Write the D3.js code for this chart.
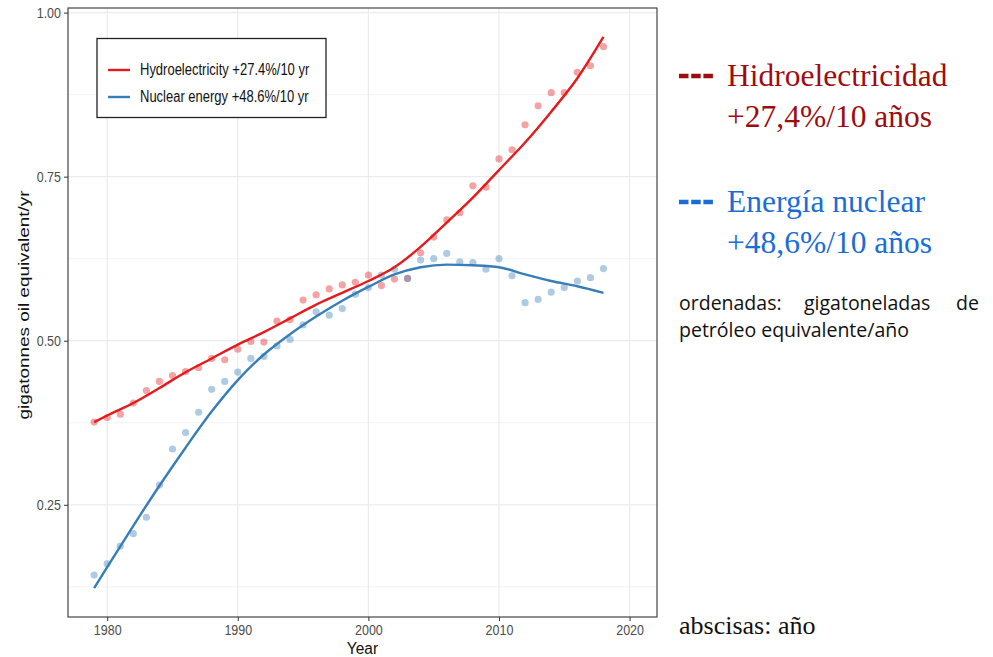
<!DOCTYPE html>
<html>
<head>
<meta charset="utf-8">
<script src="https://cdn.jsdelivr.net/npm/d3@7"></script>
<style>
  body { margin: 0; background: #fff; }
  svg { display: block; }
</style>
</head>
<body>
<script>
// data
const years = [1979,1980,1981,1982,1983,1984,1985,1986,1987,1988,1989,1990,1991,1992,1993,1994,1995,1996,1997,1998,
               1999,2000,2001,2002,2003,2004,2005,2006,2007,2008,2009,2010,2011,2012,2013,2014,2015,2016,2017,2018]
const hydro = [0.376,0.383,0.388,0.405,0.424,0.438,0.447,0.453,0.459,0.473,0.471,0.487,0.499,0.498,0.530,0.532,0.562,0.570,0.579,0.585,
               0.589,0.600,0.584,0.594,0.595,0.634,0.658,0.684,0.695,0.736,0.734,0.777,0.791,0.829,0.858,0.878,0.878,0.909,0.919,0.948]
const nuclear = [0.143,0.160,0.187,0.206,0.231,0.280,0.335,0.360,0.391,0.426,0.438,0.452,0.473,0.476,0.492,0.502,0.524,0.544,0.539,0.549,
                 0.571,0.581,0.600,0.609,0.595,0.623,0.625,0.633,0.620,0.619,0.609,0.625,0.599,0.558,0.563,0.574,0.581,0.591,0.596,0.610]

// smoothed trend lines, read at these years
const fitYears = [1979,1980,1982,1984,1986,1988,1990,1992,1994,1996,1998,2000,2002,2004,2006,2008,2010,2012,2014,2016,2018]
const hydroFit = [0.376,0.386,0.405,0.428,0.452,0.473,0.494,0.513,0.534,0.555,0.573,0.591,0.612,0.643,0.680,0.718,0.760,0.802,0.849,0.900,0.963]
const nuclearFit = [0.123,0.155,0.218,0.279,0.337,0.392,0.440,0.479,0.510,0.537,0.561,0.582,0.601,0.612,0.616,0.615,0.612,0.601,0.591,0.583,0.573]

const xTicks = [1980,1990,2000,2010,2020]
const yTicks = [0.25,0.50,0.75,1.00]
const yMinor = [0.125,0.375,0.625,0.875]
const legendLabels = ['Hydroelectricity +27.4%/10 yr','Nuclear energy +48.6%/10 yr']

let width = 993
let height = 657
let panel = {left: 68, right: 657, top: 8, bottom: 617}

const red = '#e41a1c'
const blue = '#377eb8'
const stretch = 'scale(1,1.2)'

const svg = d3.select('body').append('svg').attr('width', width).attr('height', height)

const x = d3.scaleLinear().domain([1977, 2022.1]).range([panel.left, panel.right])
const y = d3.scaleLinear().domain([0.079, 1.007]).range([panel.bottom, panel.top])

// grid
svg.append('g').selectAll('line').data(yMinor).enter().append('line')
  .attr('x1', panel.left).attr('x2', panel.right)
  .attr('y1', d => y(d)).attr('y2', d => y(d))
  .attr('stroke', '#f3f3f3').attr('stroke-width', 1)
svg.append('g').selectAll('line').data(yTicks).enter().append('line')
  .attr('x1', panel.left).attr('x2', panel.right)
  .attr('y1', d => y(d)).attr('y2', d => y(d))
  .attr('stroke', '#ebebeb').attr('stroke-width', 1.2)
svg.append('g').selectAll('line').data(xTicks).enter().append('line')
  .attr('y1', panel.top).attr('y2', panel.bottom)
  .attr('x1', d => x(d)).attr('x2', d => x(d))
  .attr('stroke', '#ebebeb').attr('stroke-width', 1.2)

// points
svg.append('g').selectAll('circle').data(years).enter().append('circle')
  .attr('cx', d => x(d)).attr('cy', (d, i) => y(hydro[i])).attr('r', 3.6)
  .attr('fill', red).attr('fill-opacity', 0.4)
svg.append('g').selectAll('circle').data(years).enter().append('circle')
  .attr('cx', d => x(d)).attr('cy', (d, i) => y(nuclear[i])).attr('r', 3.6)
  .attr('fill', blue).attr('fill-opacity', 0.4)

// trend lines
const line = d3.line().x(d => x(d[0])).y(d => y(d[1])).curve(d3.curveMonotoneX)
svg.append('path').datum(fitYears.map((d, i) => [d, nuclearFit[i]]))
  .attr('d', line).attr('fill', 'none').attr('stroke', blue).attr('stroke-width', 2.4)
svg.append('path').datum(fitYears.map((d, i) => [d, hydroFit[i]]))
  .attr('d', line).attr('fill', 'none').attr('stroke', red).attr('stroke-width', 2.4)

// panel border
svg.append('rect')
  .attr('x', panel.left).attr('y', panel.top)
  .attr('width', panel.right - panel.left).attr('height', panel.bottom - panel.top)
  .attr('fill', 'none').attr('stroke', '#333').attr('stroke-width', 1.1)

// axes
const yAxis = d3.axisLeft(y).tickValues(yTicks).tickFormat(d3.format('.2f')).tickSize(4).tickPadding(3)
const xAxis = d3.axisBottom(x).tickValues(xTicks).tickFormat(d3.format('d')).tickSize(4).tickPadding(2)

svg.append('g').attr('transform', `translate(${panel.left},0)`).call(yAxis)
  .call(g => g.select('.domain').remove())
  .call(g => g.selectAll('line').attr('stroke', '#333'))
  .call(g => g.selectAll('text').attr('transform', stretch).attr('fill', '#4d4d4d')
    .style('font-family', 'Liberation Sans, Arial, sans-serif').style('font-size', '12.5px'))

svg.append('g').attr('transform', `translate(0,${panel.bottom})`).call(xAxis)
  .call(g => g.select('.domain').remove())
  .call(g => g.selectAll('line').attr('stroke', '#333'))
  .call(g => g.selectAll('text').attr('transform', stretch).attr('fill', '#4d4d4d')
    .style('font-family', 'Liberation Sans, Arial, sans-serif').style('font-size', '12.5px'))

// axis titles
svg.append('text').text('Year')
  .attr('transform', `translate(${(panel.left + panel.right) / 2},654) scale(1,1.1)`)
  .attr('text-anchor', 'middle').attr('fill', '#111')
  .style('font-family', 'Liberation Sans, Arial, sans-serif').style('font-size', '15.5px')

svg.append('text').text('gigatonnes oil equivalent/yr')
  .attr('transform', `translate(29,305) rotate(-90) scale(1.35,1)`)
  .attr('text-anchor', 'middle').attr('fill', '#111')
  .style('font-family', 'Liberation Sans, Arial, sans-serif').style('font-size', '14px')

// legend
const legend = svg.append('g')
legend.append('rect')
  .attr('x', 97).attr('y', 38.5).attr('width', 229).attr('height', 79)
  .attr('fill', '#fff').attr('stroke', '#222').attr('stroke-width', 1.3)

legend.selectAll('line').data([red, blue]).enter().append('line')
  .attr('x1', 108).attr('x2', 130)
  .attr('y1', (d, i) => 70 + i * 27).attr('y2', (d, i) => 70 + i * 27)
  .attr('stroke', d => d).attr('stroke-width', 2.4)

legend.selectAll('text').data(legendLabels).enter().append('text')
  .text(d => d)
  .attr('transform', (d, i) => `translate(140,${75 + i * 27}) ${stretch}`)
  .attr('fill', '#111')
  .style('font-family', 'Liberation Sans, Arial, sans-serif').style('font-size', '13px')

// notes on the right
const serif = 'Liberation Serif, Times New Roman, serif'
const notes = [
  {color: '#9e0c10', y: 86, lines: ['Hidroelectricidad', '+27,4%/10 años']},
  {color: '#1a6dd6', y: 212, lines: ['Energía nuclear', '+48,6%/10 años']}
]
notes.forEach(n => {
  svg.append('line')
    .attr('x1', 679).attr('x2', 713).attr('y1', n.y - 10).attr('y2', n.y - 10)
    .attr('stroke', n.color).attr('stroke-width', 4.5).attr('stroke-dasharray', '9.5,2.7')
  n.lines.forEach((t, i) => {
    svg.append('text').text(t)
      .attr('x', 727).attr('y', n.y + i * 41)
      .attr('fill', n.color)
      .style('font-family', serif).style('font-size', '31.5px')
  })
})

const sans = 'Open Sans, Noto Sans, sans-serif'
svg.append('text').text('ordenadas:').attr('x', 679).attr('y', 310)
  .attr('fill', '#111').style('font-family', sans).style('font-size', '19.5px')
svg.append('text').text('gigatoneladas').attr('x', 804).attr('y', 310)
  .attr('fill', '#111').style('font-family', sans).style('font-size', '19.5px')
svg.append('text').text('de').attr('x', 979).attr('y', 310).attr('text-anchor', 'end')
  .attr('fill', '#111').style('font-family', sans).style('font-size', '19.5px')
svg.append('text').text('petróleo equivalente/año').attr('x', 679).attr('y', 337)
  .attr('fill', '#111').style('font-family', sans).style('font-size', '19.5px')

svg.append('text').text('abscisas: año').attr('x', 679).attr('y', 634)
  .attr('fill', '#111').style('font-family', serif).style('font-size', '26px')
</script>
</body>
</html>
